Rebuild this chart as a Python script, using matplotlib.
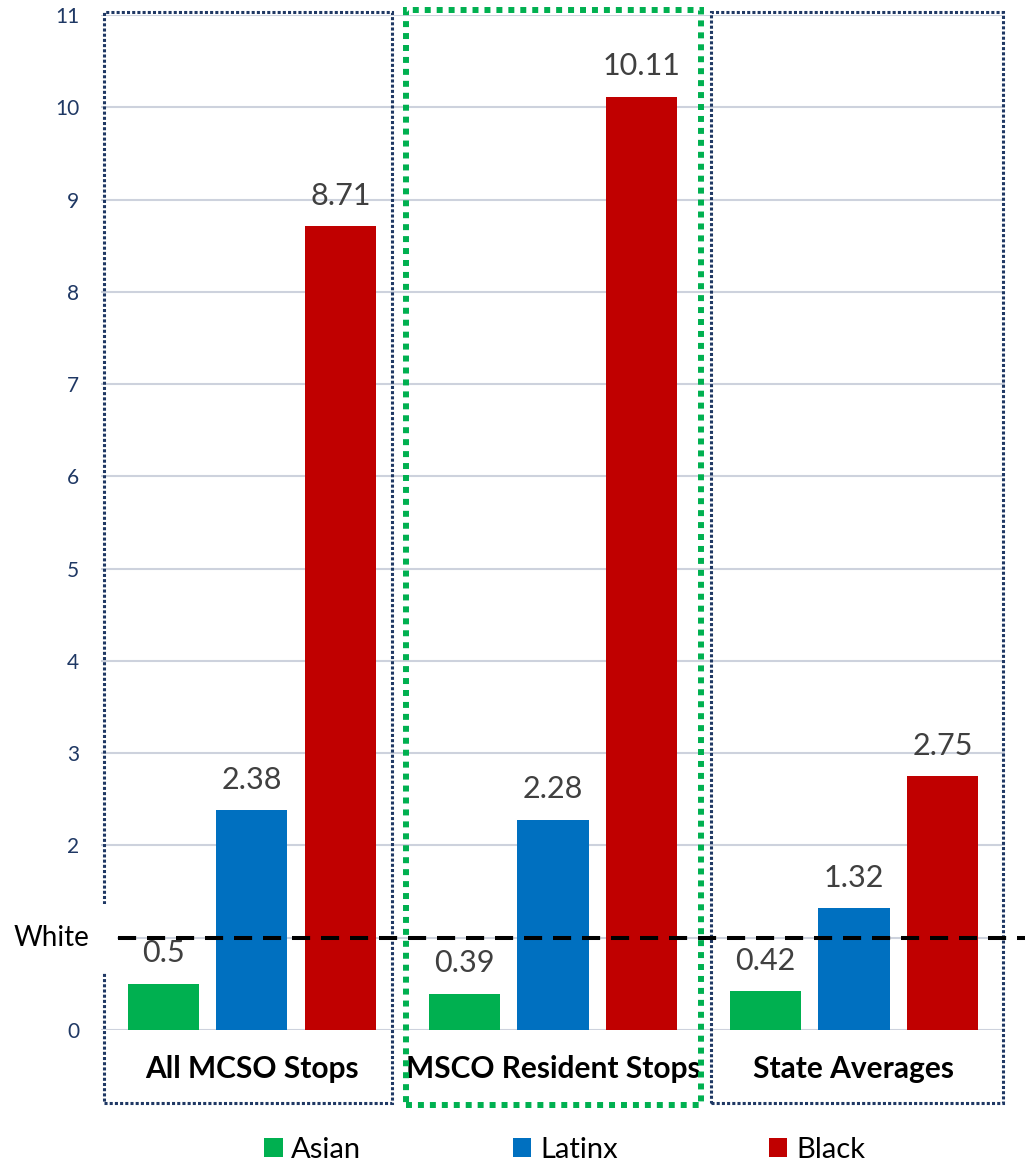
import matplotlib.pyplot as plt
import numpy as np
from matplotlib.patches import Rectangle
from matplotlib.lines import Line2D

plt.rcParams['font.family'] = ['Lato', 'DejaVu Sans']

groups = ['All MCSO Stops', 'MSCO Resident Stops', 'State Averages']
races = ['Asian', 'Latinx', 'Black']
asian = [0.5, 0.39, 0.42]
latinx = [2.38, 2.28, 1.32]
black = [8.71, 10.11, 2.75]
white_baseline = 1
yticks = [0, 1, 2, 3, 4, 5, 6, 7, 8, 9, 10, 11]

colors = ['#00B050', '#0070C0', '#C00000']
navy = '#1F3864'

fig = plt.figure(figsize=(10.25, 11.65), dpi=100)
ax = fig.add_axes([0.099, 0.1159, 0.881, 0.8712])

x = np.arange(len(groups))
offset = 0.294
width = 0.236
bars = []
for i, (vals, c) in enumerate(zip([asian, latinx, black], colors)):
    b = ax.bar(x + (i - 1) * offset, vals, width, color=c, label=races[i], zorder=3)
    bars.append(b)
    for xi, v in zip(x + (i - 1) * offset, vals):
        ax.annotate(f'{v:g}', (xi, v), xytext=(0, 12), textcoords='offset points',
                    ha='center', va='bottom', fontsize=22, color='#404040', zorder=5)

ax.set_xlim(-0.5, 2.5)
ax.set_ylim(0, 11)
ax.set_yticks(yticks)
ax.set_yticklabels(['' if t == white_baseline else str(t) for t in yticks],
                   fontsize=15, color=navy)
ax.tick_params(axis='y', length=0, pad=16)
ax.tick_params(axis='x', length=0)
ax.set_xticks([])
for s in ax.spines.values():
    s.set_visible(False)
ax.grid(axis='y', color='#CDD2DD', linewidth=1.5, zorder=0)

# group names under each cluster
for xi, g in zip(x, groups):
    ax.text(xi, -0.42, g, ha='center', va='center', fontsize=21.5, fontweight='bold')

# dotted frames around the clusters
ax.add_patch(Rectangle((-0.492, -0.79), 0.957, 11.82, fill=False, edgecolor=navy,
                       linewidth=2.2, linestyle=(0, (1, 0.7)), clip_on=False, zorder=4))
ax.add_patch(Rectangle((1.525, -0.79), 0.97, 11.82, fill=False, edgecolor=navy,
                       linewidth=2.2, linestyle=(0, (1, 0.7)), clip_on=False, zorder=4))
ax.add_patch(Rectangle((0.512, -0.81), 0.98, 11.86, fill=False, edgecolor='#00B050',
                       linewidth=4.3, linestyle=(0, (1, 1)), clip_on=False, zorder=4))

# white baseline label and dashed reference line
ax.add_patch(Rectangle((-0.56, 0.62), 0.11, 0.75, facecolor='white', edgecolor='none',
                       clip_on=False, zorder=6))
ax.add_line(Line2D([-0.445, 2.6], [white_baseline, white_baseline], color='black',
                   linewidth=2.9, dashes=(4.5, 2.7), clip_on=False, zorder=7))
fig.text(14 / 1025, ax.transData.transform((0, white_baseline))[1] / fig.bbox.height,
         'White', ha='left', va='center', fontsize=20)

fig.legend(handles=bars, labels=races, loc='center', bbox_to_anchor=(0.551, 0.013),
           ncol=3, frameon=False, fontsize=21, handlelength=0.62, handleheight=0.62,
           handletextpad=0.3, columnspacing=5.2)

fig.savefig('out.png', dpi=100)
